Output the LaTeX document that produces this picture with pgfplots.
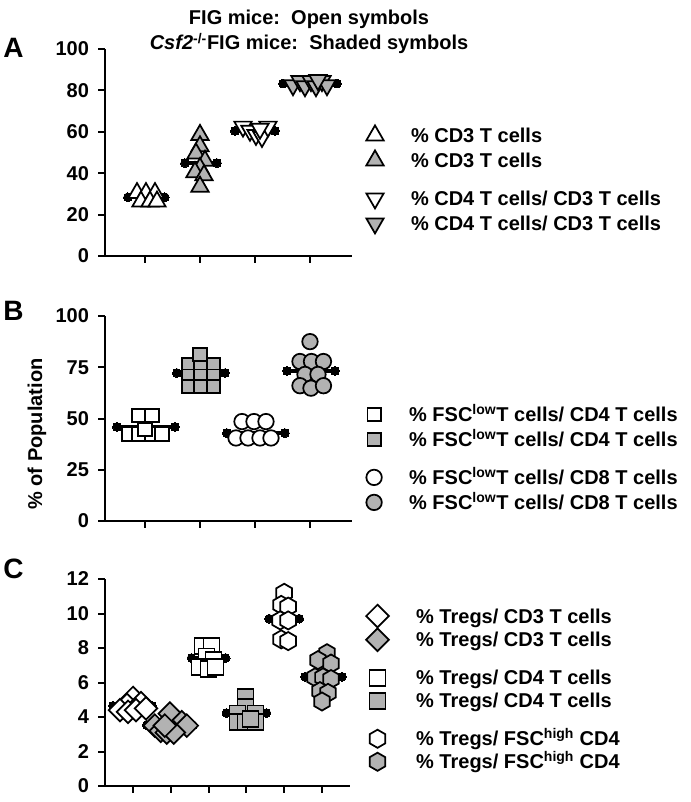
\documentclass[border=0pt]{standalone}
\usepackage{fontspec}
\setmainfont{Liberation Sans}
\usepackage{pgfplots}
\pgfplotsset{compat=1.18}
\usetikzlibrary{plotmarks}

\definecolor{shade}{RGB}{178,178,178}

% pointy-top hexagon, filled
\pgfdeclareplotmark{hexagon*}{%
  \pgfpathmoveto{\pgfqpointpolar{90}{\pgfplotmarksize}}%
  \pgfpathlineto{\pgfqpointpolar{150}{\pgfplotmarksize}}%
  \pgfpathlineto{\pgfqpointpolar{210}{\pgfplotmarksize}}%
  \pgfpathlineto{\pgfqpointpolar{270}{\pgfplotmarksize}}%
  \pgfpathlineto{\pgfqpointpolar{330}{\pgfplotmarksize}}%
  \pgfpathlineto{\pgfqpointpolar{30}{\pgfplotmarksize}}%
  \pgfpathclose
  \pgfusepathqfillstroke}

\newcommand{\fs}{\bfseries\fontsize{15}{18}\selectfont}
\newcommand{\rowA}{\rule[-4.5pt]{0pt}{18.75pt}}
\newcommand{\gapA}{\rule[-14.25pt]{0pt}{28.5pt}}
\newcommand{\rowC}{\rule[-4pt]{0pt}{17.25pt}}
\newcommand{\gapC}{\rule[-15.25pt]{0pt}{28.5pt}}

\pgfplotsset{
  panel/.style={
    scale only axis, width=185.25pt,
    axis lines=left, axis line style={-, line width=1.5pt},
    tick align=outside, major tick length=5pt,
    major tick style={line width=1.5pt, black},
    xticklabels={},
    tick label style={font=\fs},
    yticklabel style={xshift=-3.5pt},
    /pgf/number format/assume math mode=true,
    clip=false,
    legend cell align=left,
    legend style={draw=none, fill=none, inner sep=0pt, font=\fs,
      row sep=0pt, column sep=20.5pt, nodes={inner sep=0pt, text depth=},
      cells={anchor=base west}},
    legend image post style={yshift=5.3pt},
  },
  open/.style={only marks, mark options={solid, draw=black, line width=1.3pt, fill=white, #1}},
  open/.default={},
  shad/.style={only marks, mark options={solid, draw=black, line width=1.3pt, fill=shade, #1}},
  shad/.default={},
  avg/.style={forget plot, black, line width=2.8pt, mark=*, mark size=3.3pt,
    mark options={solid, line width=0pt}},
}

\begin{document}
\begin{tikzpicture}
\path[use as bounding box] (0,0) rectangle (517.5pt,-601.5pt);

% titles and panel letters
\node[anchor=base, inner sep=0pt, font=\fs] at (231.75pt,-18.75pt) {FIG mice:\ \ Open symbols};
\node[anchor=base, inner sep=0pt, font=\fs] at (231.75pt,-37.5pt) {\textit{Csf2}\textsuperscript{-/-}FIG mice:\ \ Shaded symbols};
\node[anchor=base west, inner sep=0pt, font=\bfseries\fontsize{21}{24}\selectfont] at (2.25pt,-43.5pt) {A};
\node[anchor=base west, inner sep=0pt, font=\bfseries\fontsize{21}{24}\selectfont] at (2.25pt,-240pt) {B};
\node[anchor=base west, inner sep=0pt, font=\bfseries\fontsize{21}{24}\selectfont] at (2.25pt,-433.5pt) {C};

% ---------------- panel A
\begin{axis}[panel, at={(78.75pt,-192pt)}, anchor=south west, height=155.25pt,
  xmin=0.273, xmax=4.764, ymin=0, ymax=100, ytick={0,20,...,100}, xtick={1,2,3,4},
  legend style={at={(1.057,0.6415)}, anchor=north west}]
\addplot[avg] coordinates {(0.69,28.4) (1.36,28.4)};
\addplot[avg] coordinates {(1.727,44.9) (2.309,44.9)};
\addplot[avg] coordinates {(2.636,60.4) (3.364,60.4)};
\addplot[avg] coordinates {(3.509,83.3) (4.491,83.3)};
\addplot[open, mark=triangle*, mark size=7.5pt] coordinates {
  (0.855,30.4) (1.018,30.4) (1.182,30.4) (0.927,26.3) (1.091,26.3) (1.218,26.3)};
\addlegendentry{\rowA\% CD3 T cells}
\addplot[shad, mark=triangle*, mark size=7.5pt] coordinates {
  (2.0,58.5) (2.0,53) (1.927,49.5) (2.091,46) (2.0,42.5) (1.909,40.5) (2.073,39) (2.0,33.5)};
\addlegendentry{\gapA\% CD3 T cells}
\addplot[open={rotate=180}, mark=triangle*, mark size=7.5pt] coordinates {
  (2.782,62.5) (2.909,60.5) (3.018,58.5) (3.127,57.5) (3.236,62.5) (3.091,61.5)};
\addlegendentry{\rowA\% CD4 T cells/ CD3 T cells}
\addplot[shad={rotate=180}, mark=triangle*, mark size=7.5pt] coordinates {
  (3.691,82.5) (3.818,84.5) (3.909,82) (4.018,84.5) (4.109,82) (4.218,84.5) (4.309,82.5) (4.145,85)};
\addlegendentry{\rowA\% CD4 T cells/ CD3 T cells}
\end{axis}

% ---------------- panel B
\begin{axis}[panel, at={(78.75pt,-390.75pt)}, anchor=south west, height=153.75pt,
  xmin=0.273, xmax=4.764, ymin=0, ymax=100, ytick={0,25,...,100}, xtick={1,2,3,4},
  ylabel={\% of Population},
  every axis y label/.style={at={(axis description cs:-0.275,0.424)}, rotate=90, anchor=center, font=\fs},
  legend style={at={(1.057,0.5795)}, anchor=north west}]
\addplot[avg] coordinates {(0.49,45.9) (1.545,45.9)};
\addplot[avg] coordinates {(1.58,72.2) (2.455,72.2)};
\addplot[avg] coordinates {(2.49,42.9) (3.545,42.9)};
\addplot[avg] coordinates {(3.582,73.2) (4.455,73.2)};
\addplot[open, mark=square*, mark size=5pt] coordinates {
  (0.891,51.5) (1.127,51.5) (0.709,42.4) (0.891,42.4) (1.127,42.4) (1.309,42.4) (1.0,44.6)};
\addlegendentry{\rowA\% FSC\textsuperscript{low}T cells/ CD4 T cells}
\addplot[shad, mark=square*, mark size=5pt] coordinates {
  (1.79,76.3) (2.018,76.3) (2.245,76.3) (1.79,70.7) (2.018,70.7) (2.245,70.7)
  (1.79,65.6) (2.018,65.6) (2.245,65.6) (2.0,81.2)};
\addlegendentry{\gapA\% FSC\textsuperscript{low}T cells/ CD4 T cells}
\addplot[open, mark=*, mark size=5.8pt] coordinates {
  (2.764,48.5) (2.982,48.5) (3.2,48.5) (2.655,40.5) (2.873,40.5) (3.091,40.5) (3.291,40.5)};
\addlegendentry{\rowA\% FSC\textsuperscript{low}T cells/ CD8 T cells}
\addplot[shad, mark=*, mark size=5.8pt] coordinates {
  (4.0,87.5) (3.818,77.8) (4.027,77.8) (4.245,77.8) (3.909,71.5) (4.145,71.5)
  (3.818,66) (4.018,64.8) (4.245,66)};
\addlegendentry{\rowA\% FSC\textsuperscript{low}T cells/ CD8 T cells}
\end{axis}

% ---------------- panel C
\begin{axis}[panel, at={(78.75pt,-589.5pt)}, anchor=south west, height=155.25pt, width=183.75pt,
  xmin=0.259, xmax=6.741, ymin=0, ymax=12, ytick={0,2,...,12}, xtick={1,2,...,6},
  legend style={at={(1.065,0.877)}, anchor=north west}]
\addplot[avg] coordinates {(0.471,4.65) (1.503,4.65)};
\addplot[avg] coordinates {(1.365,3.53) (2.582,3.53)};
\addplot[avg] coordinates {(2.55,7.42) (3.45,7.42)};
\addplot[avg] coordinates {(3.471,4.23) (4.529,4.23)};
\addplot[avg] coordinates {(4.603,9.7) (5.397,9.7)};
\addplot[avg] coordinates {(5.55,6.33) (6.529,6.33)};
\addplot[open={rotate=45}, mark=square*, mark size=6pt] coordinates {
  (1.0,5.1) (0.841,4.7) (1.212,4.8) (0.656,4.4) (0.868,4.3) (1.079,4.4) (1.344,4.5)};
\addlegendentry{\rowC\% Tregs/ CD3 T cells}
\addplot[shad={rotate=45}, mark=square*, mark size=6pt] coordinates {
  (1.974,4.2) (2.291,3.7) (2.423,3.5) (1.577,3.5) (1.735,3.2) (1.894,3.1) (2.079,3.1) (1.841,3.5)};
\addlegendentry{\gapC\% Tregs/ CD3 T cells}
\addplot[open, mark=square*, mark size=6pt] coordinates {
  (2.841,8.1) (3.079,8.1) (2.947,7.5) (3.132,7.3) (2.762,6.9) (3.0,6.8) (3.185,6.9)};
\addlegendentry{\rowC\% Tregs/ CD4 T cells}
\addplot[shad, mark=square*, mark size=6pt] coordinates {
  (3.974,5.15) (3.974,4.6) (3.762,4.2) (4.238,4.2) (3.762,3.7) (3.974,3.7) (4.238,3.7) (4.106,3.9)};
\addlegendentry{\gapC\% Tregs/ CD4 T cells}
\addplot[open, mark=hexagon*, mark size=6.8pt] coordinates {
  (5.0,11.2) (4.921,10.5) (5.106,10.4) (4.894,9.6) (5.106,9.6) (4.921,8.5) (5.106,8.4)};
\addlegendentry{\rowC\% Tregs/ FSC\textsuperscript{high} CD4}
\addplot[shad, mark=hexagon*, mark size=6.8pt] coordinates {
  (6.132,7.7) (5.894,7.3) (6.238,7.1) (5.815,6.3) (6.026,6.3) (6.238,6.2)
  (5.947,5.5) (6.159,5.4) (6.0,4.9)};
\addlegendentry{\rowC\% Tregs/ FSC\textsuperscript{high} CD4}
\end{axis}
\end{tikzpicture}
\end{document}
